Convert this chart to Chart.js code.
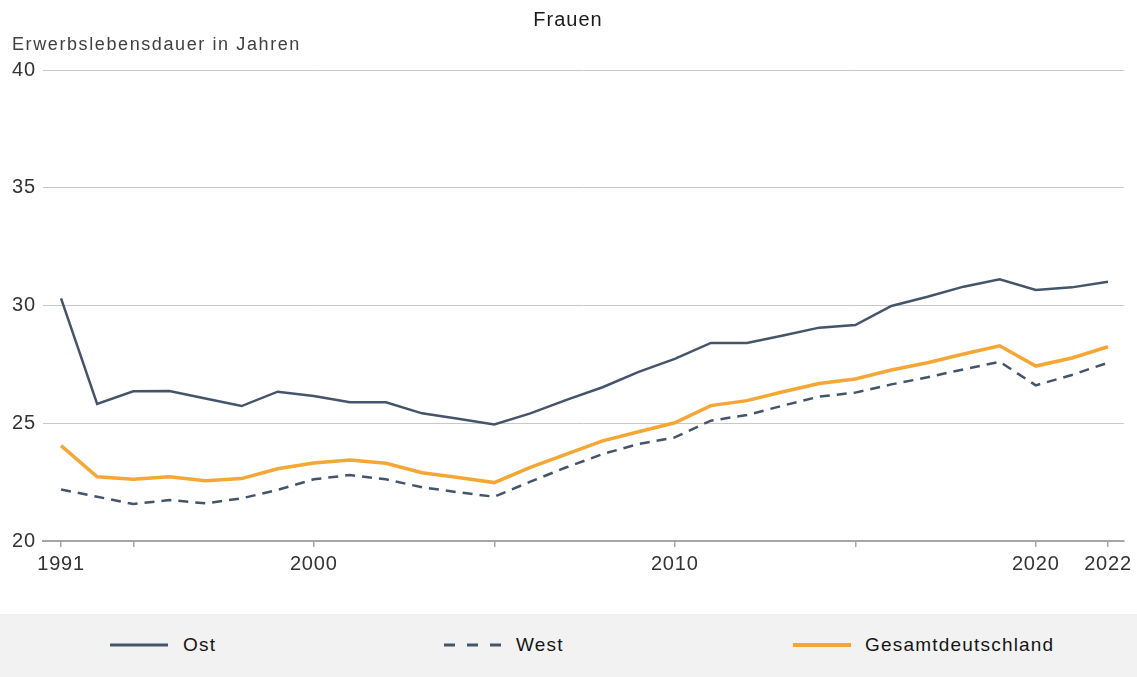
<!DOCTYPE html>
<html>
<head>
<meta charset="utf-8">
<script src="https://cdn.jsdelivr.net/npm/chart.js@4.4.0/dist/chart.umd.min.js"></script>
<style>
  html, body { margin: 0; padding: 0; background: #fff; }
  #wrap { position: relative; width: 1137px; height: 677px; overflow: hidden; font-family: "Liberation Sans", Arial, sans-serif; }
  #c { position: absolute; left: 0; top: 0; }
  #legend { position: absolute; left: 0; top: 614px; width: 1137px; height: 63px; background: #f2f2f2; }
  .item { position: absolute; top: 0; height: 63px; }
  .txt { position: absolute; top: 20px; font-size: 19px; line-height: 22px; letter-spacing: 1.2px; color: #151515; white-space: nowrap; }
</style>
</head>
<body>
<div id="wrap">
  <canvas id="c" width="1137" height="614"></canvas>
  <div id="legend">
    <svg class="item" style="left:0;width:1137px" width="1137" height="63">
      <line x1="110" y1="31" x2="168" y2="31" stroke="#44546a" stroke-width="3"/>
      <line x1="444" y1="31" x2="502" y2="31" stroke="#44546a" stroke-width="3" stroke-dasharray="11 12"/>
      <line x1="793" y1="31" x2="851" y2="31" stroke="#f4a735" stroke-width="4"/>
    </svg>
    <div class="txt" style="left:183px">Ost</div>
    <div class="txt" style="left:516px">West</div>
    <div class="txt" style="left:865px">Gesamtdeutschland</div>
  </div>
</div>
<script>
// ---- data ----
const years = ['1991','1993','1995','1996','1997','1998','1999','2000','2001','2002','2003','2004','2005','2006','2007','2008','2009','2010','2011','2012','2013','2014','2015','2016','2017','2018','2019','2020','2021','2022'];
const ost = [30.3, 25.82, 26.36, 26.37, 26.05, 25.73, 26.34, 26.16, 25.89, 25.89, 25.42, 25.19, 24.95, 25.42, 25.99, 26.53, 27.18, 27.73, 28.41, 28.41, 28.73, 29.06, 29.17, 29.98, 30.37, 30.8, 31.11, 30.66, 30.77, 31.01];
const west = [22.19, 21.88, 21.57, 21.74, 21.6, 21.81, 22.17, 22.62, 22.8, 22.62, 22.28, 22.07, 21.88, 22.52, 23.13, 23.69, 24.12, 24.4, 25.11, 25.35, 25.75, 26.13, 26.3, 26.65, 26.95, 27.29, 27.61, 26.61, 27.05, 27.57];
const gesamt = [24.05, 22.73, 22.62, 22.73, 22.56, 22.65, 23.07, 23.31, 23.44, 23.3, 22.9, 22.7, 22.48, 23.13, 23.69, 24.25, 24.64, 25.02, 25.75, 25.96, 26.34, 26.69, 26.88, 27.26, 27.57, 27.94, 28.29, 27.43, 27.77, 28.25];
const tickYears = ['1991','1995','2000','2005','2010','2015','2020','2022'];
const labelYears = ['1991','2000','2010','2020','2022'];
const yTicks = [20, 25, 30, 35, 40];
const chartTitle = 'Frauen';
const yCaption = 'Erwerbslebensdauer in Jahren';

const toPts = arr => arr.map((v, i) => ({ x: i, y: v }));

const spacingPlugin = {
  id: 'spacing',
  beforeLayout(chart) { chart.ctx.letterSpacing = '0.8px'; },
  beforeDraw(chart) { chart.ctx.letterSpacing = '0.8px'; },
  afterDraw(chart) {
    const ctx = chart.ctx;
    ctx.save();
    ctx.fillStyle = '#1a1a1a';
    ctx.font = '20px "Liberation Sans", Arial, sans-serif';
    ctx.letterSpacing = '1px';
    ctx.textAlign = 'center';
    ctx.textBaseline = 'alphabetic';
    ctx.fillText(chartTitle, 568, 26);
    ctx.fillStyle = '#404040';
    ctx.font = '18px "Liberation Sans", Arial, sans-serif';
    ctx.letterSpacing = '1.6px';
    ctx.textAlign = 'left';
    ctx.fillText(yCaption, 12, 50);
    ctx.restore();
  }
};

new Chart(document.getElementById('c'), {
  type: 'line',
  data: {
    datasets: [
      { label: 'West', data: toPts(west), borderColor: '#44546a', borderWidth: 2.5, borderDash: [10, 7], pointRadius: 0, tension: 0 },
      { label: 'Gesamtdeutschland', data: toPts(gesamt), borderColor: '#f4a735', borderWidth: 3.5, pointRadius: 0, tension: 0 },
      { label: 'Ost', data: toPts(ost), borderColor: '#44546a', borderWidth: 2.5, pointRadius: 0, tension: 0 }
    ]
  },
  options: {
    responsive: false,
    animation: false,
    events: [],
    layout: { padding: { left: 12, right: 11, top: 70, bottom: 0 } },
    plugins: { legend: { display: false }, title: { display: false }, tooltip: { enabled: false } },
    scales: {
      x: {
        type: 'linear',
        min: -0.5,
        max: 29.44,
        afterBuildTicks(scale) {
          scale.ticks = tickYears.map(y => ({ value: years.indexOf(y) }));
        },
        afterFit(scale) { scale.height = 73; },
        grid: { drawOnChartArea: false, drawTicks: true, tickLength: 6, color: '#a6a6a6', lineWidth: 1.5 },
        border: { display: true, color: '#a6a6a6', width: 2 },
        ticks: {
          autoSkip: false,
          maxRotation: 0,
          padding: 5,
          color: '#333333',
          font: { family: '"Liberation Sans", Arial, sans-serif', size: 20 },
          callback(value) {
            const y = years[value];
            return labelYears.includes(y) ? y : '';
          }
        }
      },
      y: {
        min: 20,
        max: 40,
        afterBuildTicks(scale) { scale.ticks = yTicks.map(v => ({ value: v })); },
        afterFit(scale) { scale.width = 31; },
        grid: { color: '#c8c8c8', lineWidth: 1, drawTicks: false },
        border: { display: false },
        ticks: {
          crossAlign: 'far',
          padding: 0,
          color: '#333333',
          font: { family: '"Liberation Sans", Arial, sans-serif', size: 20 }
        }
      }
    }
  },
  plugins: [spacingPlugin]
});
</script>
</body>
</html>
